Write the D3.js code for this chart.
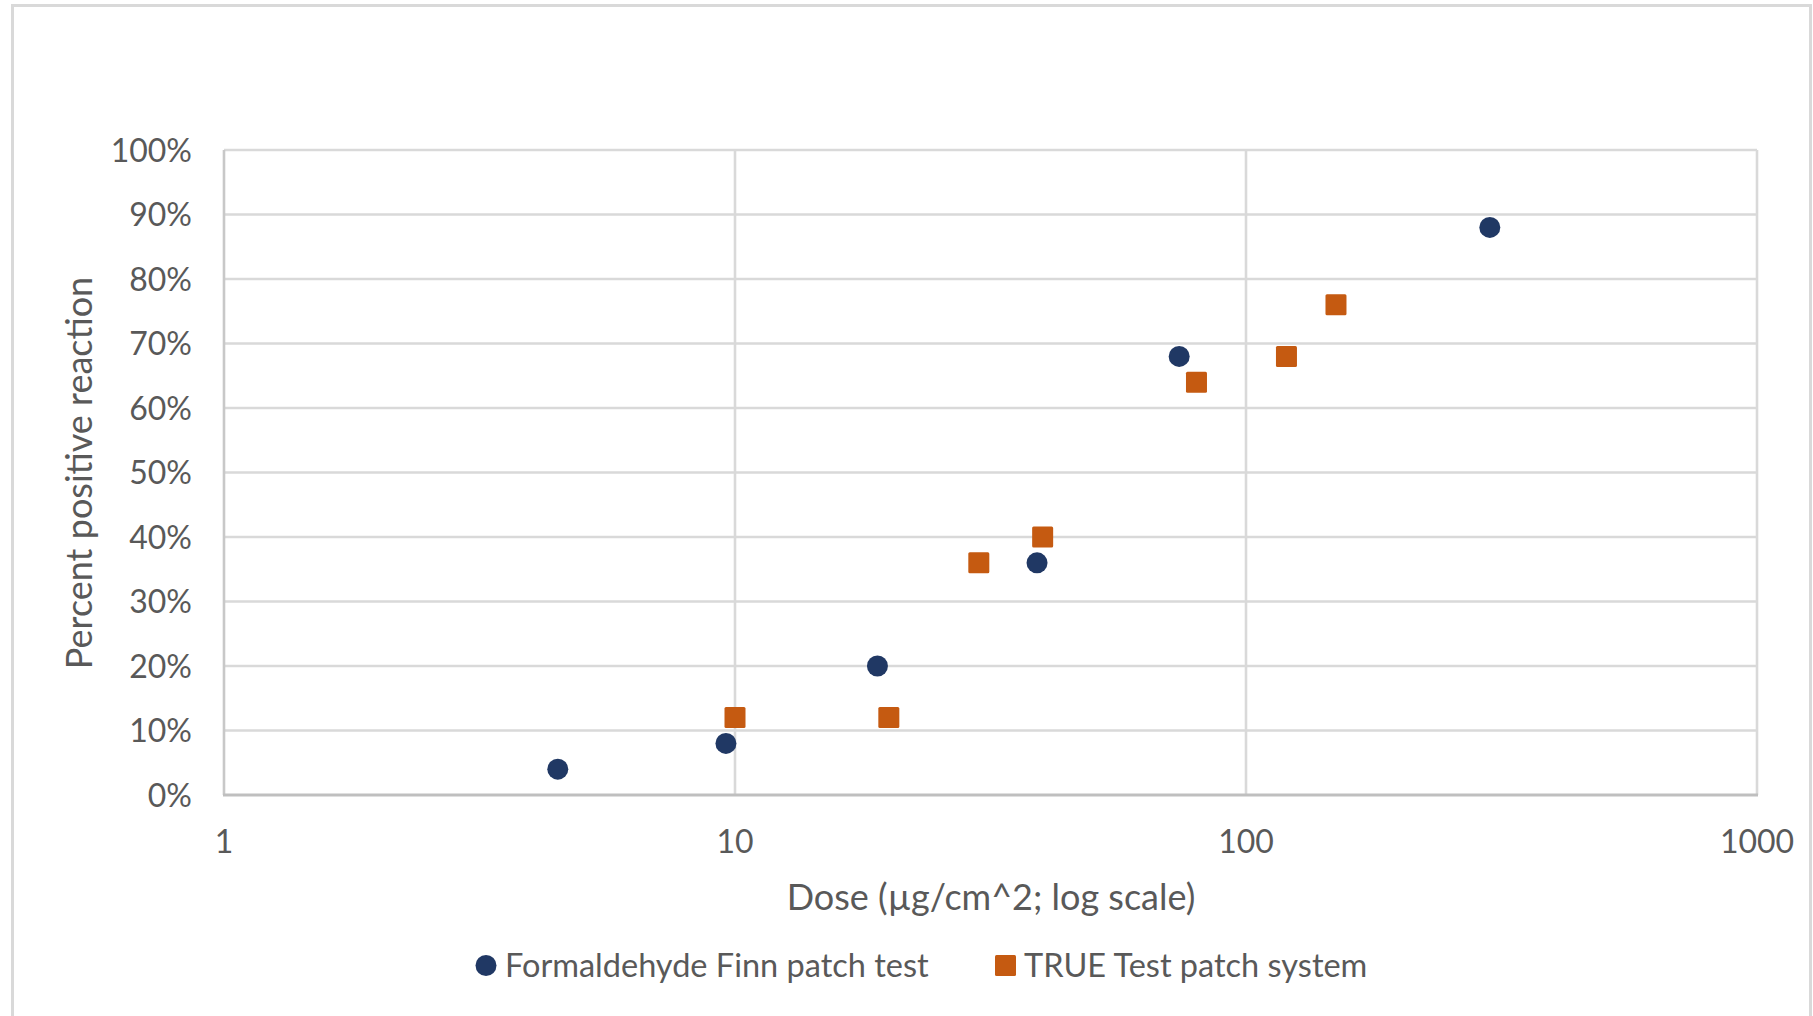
<!DOCTYPE html>
<html>
<head>
<meta charset="utf-8">
<script src="https://cdn.jsdelivr.net/npm/d3@7"></script>
<style>
  html, body { margin: 0; padding: 0; background: #fff; }
  svg { display: block; }
  text { font-family: Lato, "Open Sans", sans-serif; fill: #595959; }
</style>
</head>
<body>
<svg id="chart" width="1813" height="1016"></svg>
<script>
// ---- data ----
const finnDose = [4.5, 9.6, 19, 39, 74, 300];
const finnPct  = [0.04, 0.08, 0.20, 0.36, 0.68, 0.88];
const trueDose = [10, 20, 30, 40, 80, 120, 150];
const truePct  = [0.12, 0.12, 0.36, 0.40, 0.64, 0.68, 0.76];
const xTicks = [1, 10, 100, 1000];
const yTicks = [0, 0.1, 0.2, 0.3, 0.4, 0.5, 0.6, 0.7, 0.8, 0.9, 1.0];
const seriesNames = ["Formaldehyde Finn patch test", "TRUE Test patch system"];
const seriesColors = ["#203864", "#C55A11"];
const xTitle = "Dose (µg/cm^2; log scale)";
const yTitle = "Percent positive reaction";

const svg = d3.select("#chart");
const plot = { left: 224, right: 1757, top: 150, bottom: 795 };

// outer chart border
svg.append("rect").attr("x", 12.5).attr("y", 5.5).attr("width", 1798).attr("height", 1030)
  .attr("fill", "#fff").attr("stroke", "#d9d9d9").attr("stroke-width", 3);

const x = d3.scaleLog().domain([1, 1000]).range([plot.left, plot.right]);
const y = d3.scaleLinear().domain([0, 1]).range([plot.bottom, plot.top]);

// horizontal gridlines
svg.append("g").selectAll("line").data(yTicks.filter(d => d > 0)).join("line")
  .attr("x1", plot.left).attr("x2", plot.right)
  .attr("y1", d => y(d)).attr("y2", d => y(d))
  .attr("stroke", "#d9d9d9").attr("stroke-width", 2.6);
// vertical gridlines
svg.append("g").selectAll("line").data(xTicks).join("line")
  .attr("x1", d => x(d)).attr("x2", d => x(d))
  .attr("y1", plot.top).attr("y2", plot.bottom)
  .attr("stroke", d => d === 1 ? "#c8c8c8" : "#d9d9d9").attr("stroke-width", 2.6);
// bottom axis line
svg.append("line").attr("x1", plot.left - 1).attr("x2", plot.right + 1)
  .attr("y1", y(0)).attr("y2", y(0)).attr("stroke", "#bfbfbf").attr("stroke-width", 3);

// y tick labels
svg.append("g").selectAll("text").data(yTicks).join("text")
  .attr("x", 192).attr("y", d => y(d)).attr("dy", "0.36em")
  .attr("text-anchor", "end").attr("font-size", 32)
  .text(d => d3.format(".0%")(d));
// x tick labels
svg.append("g").selectAll("text").data(xTicks).join("text")
  .attr("x", d => x(d)).attr("y", 841).attr("dy", "0.36em")
  .attr("text-anchor", "middle").attr("font-size", 32)
  .text(d => d);

// axis titles
svg.append("text").attr("x", 991).attr("y", 897).attr("dy", "0.36em")
  .attr("text-anchor", "middle").attr("font-size", 36).text(xTitle);
svg.append("text").attr("transform", "translate(79,473) rotate(-90)").attr("dy", "0.36em")
  .attr("text-anchor", "middle").attr("font-size", 36).text(yTitle);

// points
const finn = finnDose.map((d, i) => ({ x: d, y: finnPct[i] }));
const tru = trueDose.map((d, i) => ({ x: d, y: truePct[i] }));
const sq = 21;
svg.append("g").selectAll("rect").data(tru).join("rect")
  .attr("x", d => x(d.x) - sq / 2).attr("y", d => y(d.y) - sq / 2)
  .attr("width", sq).attr("height", sq).attr("rx", 1.5)
  .attr("fill", seriesColors[1]);
svg.append("g").selectAll("circle").data(finn).join("circle")
  .attr("cx", d => x(d.x)).attr("cy", d => y(d.y)).attr("r", 10.5)
  .attr("fill", seriesColors[0]);

// legend
const ly = 965.5;
const lg = svg.append("g");
lg.append("circle").attr("cx", 486).attr("cy", ly).attr("r", 10.5).attr("fill", seriesColors[0]);
lg.append("text").attr("x", 505).attr("y", ly).attr("dy", "0.36em").attr("font-size", 32.5).text(seriesNames[0]);
lg.append("rect").attr("x", 995).attr("y", ly - 10.5).attr("width", 21).attr("height", 21).attr("rx", 1.5).attr("fill", seriesColors[1]);
lg.append("text").attr("x", 1024).attr("y", ly).attr("dy", "0.36em").attr("font-size", 32.5).text(seriesNames[1]);
</script>
</body>
</html>
